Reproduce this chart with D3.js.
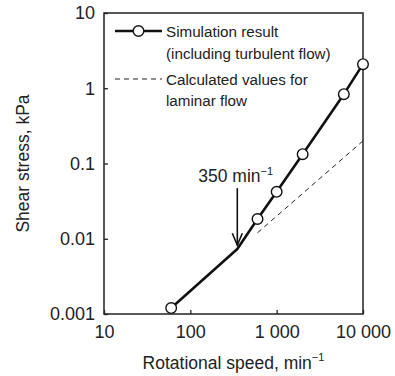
<!DOCTYPE html>
<html>
<head>
<meta charset="utf-8">
<script src="https://cdn.jsdelivr.net/npm/d3@7"></script>
<style>
  body { margin: 0; background: #fff; }
  text { font-family: "Liberation Sans", Arial, sans-serif; fill: #222; }
</style>
</head>
<body>
<div id="chart"></div>
<script>
// Simulation result (including turbulent flow)
const simSpeed = [60, 350, 600, 1000, 2000, 6000, 10000];
const simStress = [0.0012, 0.0073, 0.0183, 0.042, 0.133, 0.835, 2.09];
const simMarker = [true, false, true, true, true, true, true];

// Calculated values for laminar flow
const lamSpeed = [600, 10000];
const lamStress = [0.012, 0.2];

const xTicks = [10, 100, 1000, 10000];
const xTickLabels = ["10", "100", "1 000", "10 000"];
const yTicks = [0.001, 0.01, 0.1, 1, 10];
const yTickLabels = ["0.001", "0.01", "0.1", "1", "10"];

const width = 395, height = 376;
const margin = { top: 13, right: 32, bottom: 62, left: 104 };

const svg = d3.select("#chart").append("svg")
  .attr("width", width)
  .attr("height", height);

const x = d3.scaleLog().domain([10, 10000]).range([margin.left, width - margin.right]);
const y = d3.scaleLog().domain([0.001, 10]).range([height - margin.bottom, margin.top]);

// frame
svg.append("rect")
  .attr("x", x(10)).attr("y", y(10))
  .attr("width", x(10000) - x(10)).attr("height", y(0.001) - y(10))
  .attr("fill", "none").attr("stroke", "#222").attr("stroke-width", 1.5);

// axes, ticks pointing inward
const xAxis = d3.axisBottom(x).tickValues(xTicks)
  .tickFormat((d, i) => xTickLabels[i]).tickSizeInner(-4).tickSizeOuter(0).tickPadding(11);
const gx = svg.append("g").attr("transform", `translate(0,${y(0.001)})`).call(xAxis);
gx.select(".domain").remove();
gx.selectAll("line").attr("stroke", "#222").attr("stroke-width", 1.3);
gx.selectAll("text").style("font-size", "18px").attr("fill", "#222");

const yAxis = d3.axisLeft(y).tickValues(yTicks)
  .tickFormat((d, i) => yTickLabels[i]).tickSizeInner(-4).tickSizeOuter(0).tickPadding(9);
const gy = svg.append("g").attr("transform", `translate(${x(10)},0)`).call(yAxis);
gy.select(".domain").remove();
gy.selectAll("line").attr("stroke", "#222").attr("stroke-width", 1.3);
gy.selectAll("text").style("font-size", "18px").attr("fill", "#222");

// axis titles
const xt = svg.append("text")
  .attr("x", (x(10) + x(10000)) / 2 + 0).attr("y", 369)
  .attr("text-anchor", "middle").style("font-size", "17.5px");
xt.append("tspan").text("Rotational speed, min");
xt.append("tspan").text("\u22121").style("font-size", "11px").attr("dy", -8);

svg.append("text")
  .attr("transform", `translate(29,${(y(0.001) + y(10)) / 2}) rotate(-90)`)
  .attr("text-anchor", "middle").style("font-size", "17.5px")
  .text("Shear stress, kPa");

// laminar line
const lamData = lamSpeed.map((s, i) => [s, lamStress[i]]);
svg.append("path")
  .datum(lamData)
  .attr("d", d3.line().x(d => x(d[0])).y(d => y(d[1])))
  .attr("fill", "none").attr("stroke", "#222").attr("stroke-width", 1)
  .attr("stroke-dasharray", "5,4");

// simulation line
const simData = simSpeed.map((s, i) => ({ s, v: simStress[i], m: simMarker[i] }));
svg.append("path")
  .datum(simData)
  .attr("d", d3.line().x(d => x(d.s)).y(d => y(d.v)))
  .attr("fill", "none").attr("stroke", "#111").attr("stroke-width", 2.6)
  .attr("stroke-linejoin", "round");

svg.selectAll(".pt")
  .data(simData.filter(d => d.m))
  .join("circle")
  .attr("class", "pt")
  .attr("cx", d => x(d.s)).attr("cy", d => y(d.v))
  .attr("r", 5.3)
  .attr("fill", "#fff").attr("stroke", "#111").attr("stroke-width", 1.4);

// arrow at 350 min-1
const ax = x(350), ay1 = y(0.047), ay2 = y(0.0082);
svg.append("line")
  .attr("x1", ax).attr("x2", ax).attr("y1", ay1).attr("y2", ay2)
  .attr("stroke", "#111").attr("stroke-width", 1.6);
svg.append("path")
  .attr("d", `M${ax - 5},${ay2 - 12} L${ax},${ay2} L${ax + 5},${ay2 - 12}`)
  .attr("fill", "none").attr("stroke", "#111").attr("stroke-width", 1.6);

const lab = svg.append("text")
  .attr("x", ax - 39).attr("y", ay1 - 6)
  .style("font-size", "17.5px");
lab.append("tspan").text("350 min");
lab.append("tspan").text("\u22121").style("font-size", "11px").attr("dy", -7);

// legend
const lg = svg.append("g");
const lx1 = 115, lx2 = 162;
lg.append("line").attr("x1", lx1).attr("x2", lx2).attr("y1", 31).attr("y2", 31)
  .attr("stroke", "#111").attr("stroke-width", 2.6);
lg.append("circle").attr("cx", (lx1 + lx2) / 2).attr("cy", 31).attr("r", 5.3)
  .attr("fill", "#fff").attr("stroke", "#111").attr("stroke-width", 1.4);
lg.append("line").attr("x1", lx1).attr("x2", lx2).attr("y1", 79).attr("y2", 79)
  .attr("stroke", "#222").attr("stroke-width", 1).attr("stroke-dasharray", "5,4");

const legendLines = [
  ["Simulation result", 37],
  ["(including turbulent flow)", 59],
  ["Calculated values for", 85],
  ["laminar flow", 106]
];
lg.selectAll(".lt")
  .data(legendLines)
  .join("text")
  .attr("class", "lt")
  .attr("x", 166).attr("y", d => d[1])
  .style("font-size", "15.2px")
  .text(d => d[0]);
</script>
</body>
</html>
